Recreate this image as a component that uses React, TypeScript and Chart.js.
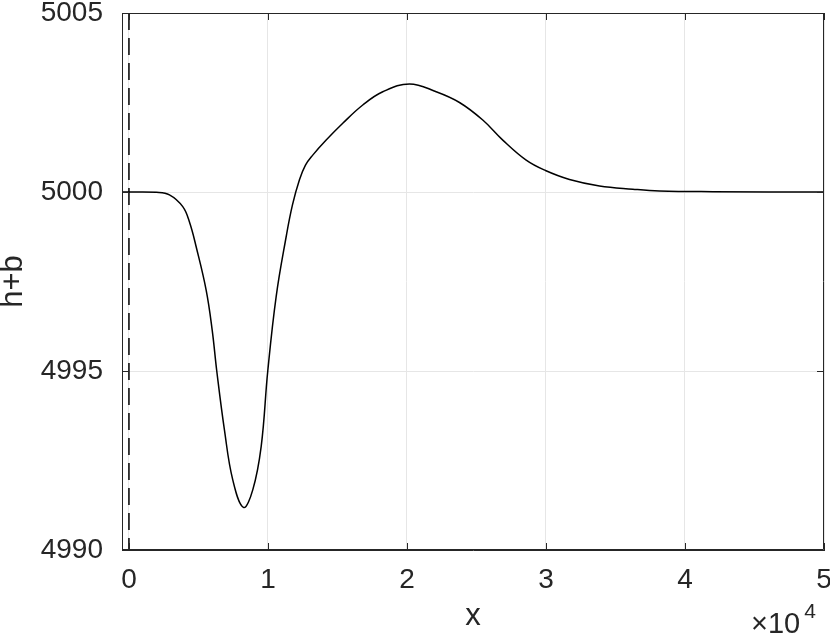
import React, { useEffect, useRef } from 'react';
import { Chart, registerables } from 'chart.js';
Chart.register(...registerables);

const xValues = [-500, 0, 1978, 2914, 3871, 4353, 4835, 5554, 5986, 6317, 6871, 7468, 8237, 8906, 9511, 9986, 10590, 11309, 11763, 12266, 12698, 13223, 14187, 15381, 16820, 18259, 20180, 22101, 23777, 25453, 26892, 28576, 29964, 31691, 33849, 36245, 38165, 42000, 50000];
const hbValues = [5000, 5000, 4999.99, 4999.92, 4999.59, 4999.16, 4998.47, 4997.26, 4996.15, 4995.0, 4993.35, 4991.96, 4991.19, 4991.68, 4992.89, 4995.0, 4997.08, 4998.75, 4999.64, 5000.34, 5000.75, 5001.03, 5001.45, 5001.92, 5002.43, 5002.8, 5003.02, 5002.8, 5002.5, 5002.01, 5001.45, 5000.89, 5000.6, 5000.35, 5000.17, 5000.08, 5000.03, 5000.01, 5000];
const dashX = [0, 0];
const dashY = [5005, 4990];
const xTicks = [0, 10000, 20000, 30000, 40000, 50000];
const yTicks = [4990, 4995, 5000, 5005];
const xTitle = 'x';
const yTitle = 'h+b';
const exponentBase = '×10';
const exponentPower = '4';

const FONT = '"Liberation Sans", Arial, Helvetica, sans-serif';
const INK = '#262626';

const boxPlugin = {
  id: 'matlabBox',
  afterDraw(chart: any) {
    const { ctx, chartArea: a, scales } = chart;
    ctx.save();
    ctx.strokeStyle = INK;
    ctx.lineWidth = 1;
    ctx.beginPath();
    ctx.rect(a.left + 0.5, a.top + 0.5, a.right - a.left - 1, a.bottom - a.top - 1);
    const tl = 7;
    xTicks.forEach((v) => {
      const px = Math.round(scales.x.getPixelForValue(v)) + 0.5;
      ctx.moveTo(px, a.bottom);
      ctx.lineTo(px, a.bottom - tl);
      ctx.moveTo(px, a.top);
      ctx.lineTo(px, a.top + tl);
    });
    yTicks.forEach((v) => {
      const py = Math.round(scales.y.getPixelForValue(v)) + 0.5;
      ctx.moveTo(a.left, py);
      ctx.lineTo(a.left + tl, py);
      ctx.moveTo(a.right, py);
      ctx.lineTo(a.right - tl, py);
    });
    ctx.stroke();
    ctx.fillStyle = INK;
    ctx.textAlign = 'left';
    ctx.textBaseline = 'alphabetic';
    ctx.font = `29px ${FONT}`;
    ctx.fillText(exponentBase, 751, 633);
    const w = ctx.measureText(exponentBase).width;
    ctx.font = `21px ${FONT}`;
    ctx.fillText(exponentPower, 751 + w + 4, 618);
    ctx.restore();
  },
};

export default function App() {
  const ref = useRef<HTMLCanvasElement>(null);
  useEffect(() => {
    const chart = new Chart(ref.current as HTMLCanvasElement, {
      type: 'line',
      data: {
        datasets: [
          {
            data: xValues.map((x, i) => ({ x, y: hbValues[i] })),
            borderColor: '#000000',
            borderWidth: 1.5,
            pointRadius: 0,
            tension: 0.4,
            fill: false,
          },
          {
            data: dashX.map((x, i) => ({ x, y: dashY[i] })),
            borderColor: '#000000',
            borderWidth: 1.5,
            borderDash: [17, 8],
            pointRadius: 0,
            fill: false,
          },
        ],
      },
      options: {
        animation: false,
        responsive: false,
        maintainAspectRatio: false,
        layout: { padding: { left: 0, right: 6, top: 13, bottom: 0 } },
        plugins: { legend: { display: false }, tooltip: { enabled: false } },
        scales: {
          x: {
            type: 'linear',
            min: -500,
            max: 50000,
            afterBuildTicks: (s: any) => {
              s.ticks = xTicks.map((v) => ({ value: v }));
            },
            afterFit: (s: any) => {
              s.height = 85;
              s.paddingLeft = 0;
              s.paddingRight = 0;
            },
            ticks: {
              callback: (v: any) => String(Number(v) / 10000),
              font: { family: FONT, size: 28 },
              color: INK,
              padding: 13,
              maxRotation: 0,
              autoSkip: false,
            },
            grid: { color: '#e6e6e6', lineWidth: 1, drawTicks: false },
            border: { display: true, color: INK, width: 1 },
            title: {
              display: true,
              text: xTitle,
              font: { family: FONT, size: 31, lineHeight: 1 },
              color: INK,
              padding: { top: 0, bottom: 3 },
            },
          },
          y: {
            type: 'linear',
            min: 4990,
            max: 5005,
            afterBuildTicks: (s: any) => {
              s.ticks = yTicks.map((v) => ({ value: v }));
            },
            afterFit: (s: any) => {
              s.width = 122;
              s.paddingTop = 0;
              s.paddingBottom = 0;
            },
            ticks: {
              callback: (v: any) => String(v),
              font: { family: FONT, size: 28 },
              color: INK,
              padding: 19,
              autoSkip: false,
            },
            grid: { color: '#e6e6e6', lineWidth: 1, drawTicks: false },
            border: { display: true, color: INK, width: 1 },
            title: {
              display: true,
              text: yTitle,
              font: { family: FONT, size: 31, lineHeight: 1 },
              color: INK,
              padding: { top: -2, bottom: 0 },
            },
          },
        },
      },
      plugins: [boxPlugin],
    } as any);
    return () => chart.destroy();
  }, []);
  return (
    <div style={{ position: 'absolute', left: 0, top: 0, width: 830, height: 635 }}>
      <canvas ref={ref} width={830} height={635} style={{ display: 'block' }} />
    </div>
  );
}
